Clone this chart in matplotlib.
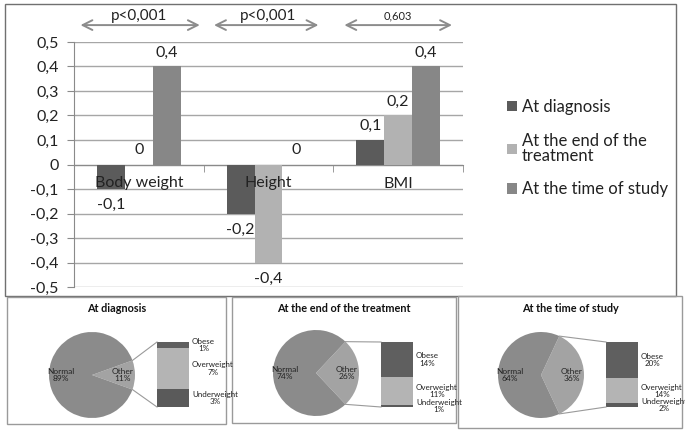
import numpy as np
import matplotlib
matplotlib.use("Agg")
import matplotlib.pyplot as plt
from matplotlib.patches import Rectangle

plt.rcParams['font.family'] = ['Lato', 'DejaVu Sans']

W, H = 685, 434

# ---- top chart data ----
categories = ["Body weight", "Height", "BMI"]
series_names = ["At diagnosis", "At the end of the\ntreatment", "At the time of study"]
at_diagnosis = [-0.1, -0.2, 0.1]
end_of_treatment = [0.0, -0.4, 0.2]
time_of_study = [0.4, 0.0, 0.4]
p_values = ["p<0,001", "p<0,001", "0,603"]
yticks = [0.5, 0.4, 0.3, 0.2, 0.1, 0.0, -0.1, -0.2, -0.3, -0.4, -0.5]

# ---- pie data ----
pie_titles = ["At diagnosis", "At the end of the treatment", "At the time of study"]
normal_pct = [89, 74, 64]
other_pct = [11, 26, 36]
obese_pct = [1, 14, 20]
overweight_pct = [7, 11, 14]
underweight_pct = [3, 1, 2]

bar_colors = ["#5b5b5b", "#b2b2b2", "#878787"]


def fmt(v):
    v = round(v, 1)
    if v == 0:
        return "0"
    return ("%g" % v).replace(".", ",")


def fr(x0, y0, x1, y1):
    # pixel box (top-left origin) -> figure fraction
    return [x0 / W, 1 - y1 / H, (x1 - x0) / W, (y1 - y0) / H]


fig = plt.figure(figsize=(W / 100, H / 100), dpi=100)

# overlay axes in pixel units (y up) for frames and pies
pax = fig.add_axes([0, 0, 1, 1])

# frames
pax.add_patch(Rectangle((5, H - 296), 671, 292, fill=False, ec="#707070", lw=1))
panels = [(7, 297, 226, 424), (232, 297, 456, 423), (458, 296, 682, 428)]
for (x0, y0, x1, y1) in panels:
    pax.add_patch(Rectangle((x0, H - y1), x1 - x0, y1 - y0, fill=False, ec="#9a9a9a", lw=1))

pie_centers = [(92, 375), (316, 373), (541, 375)]
radius = 43
bar_x = [157, 381, 606]
bar_w, bar_top, bar_h = 32, 342, 65

for i in range(3):
    cx, cy = pie_centers[i]
    cy = H - cy
    ang = other_pct[i] / 100 * 360
    wedges, _ = pax.pie([other_pct[i], normal_pct[i]], colors=["#a3a3a3", "#8b8b8b"],
                        startangle=-ang / 2, center=(cx, cy), radius=radius,
                        frame=True, wedgeprops=dict(linewidth=0))
    for wdg, lab in zip(wedges, ["Other\n%d%%" % other_pct[i], "Normal\n%d%%" % normal_pct[i]]):
        mid = np.deg2rad((wdg.theta1 + wdg.theta2) / 2)
        pax.text(cx + 0.72 * radius * np.cos(mid), cy + 0.72 * radius * np.sin(mid), lab,
                 ha="center", va="center", fontsize=6, multialignment="center",
                 color="#222222", linespacing=1.1)

    # bar of pie
    scale = bar_h / other_pct[i]
    bottom = H - bar_top - bar_h
    parts = [("Underweight", underweight_pct[i], "#5a5a5a"),
             ("Overweight", overweight_pct[i], "#b4b4b4"),
             ("Obese", obese_pct[i], "#5f5f5f")]
    for name, val, col in parts:
        h = val * scale
        pax.bar(bar_x[i] + bar_w / 2, h, bar_w, bottom=bottom, color=col, lw=0)
        pax.text(bar_x[i] + bar_w + 3, bottom + h / 2, "%s\n%d%%" % (name, val),
                 ha="left", va="center", fontsize=5.8, multialignment="center",
                 color="#222222", linespacing=1.05)
        bottom += h

    # connector lines
    a = np.deg2rad(ang / 2)
    pax.plot([cx + radius * np.cos(a), bar_x[i]], [cy + radius * np.sin(a), H - bar_top],
             color="#9a9a9a", lw=0.8)
    pax.plot([cx + radius * np.cos(a), bar_x[i]], [cy - radius * np.sin(a), H - bar_top - bar_h],
             color="#9a9a9a", lw=0.8)

    x0, y0, x1, y1 = panels[i]
    pax.text((x0 + x1) / 2, H - 309, pie_titles[i], ha="center", va="center",
             fontsize=7.8, fontweight="bold", color="#111111")

pax.set_xlim(0, W)
pax.set_ylim(0, H)
pax.axis("off")

# ---- bar chart ----
ax = fig.add_axes(fr(74, 42, 463, 287))
ax.set_facecolor("none")
x = np.arange(len(categories))
w = 0.215
series = [at_diagnosis, end_of_treatment, time_of_study]
handles = []
for k, vals in enumerate(series):
    bars = ax.bar(x + (k - 1) * w, vals, w, color=bar_colors[k], zorder=3, label=series_names[k])
    handles.append(bars)
    for b, v in zip(bars, vals):
        ax.annotate(fmt(v), (b.get_x() + b.get_width() / 2, v),
                    xytext=(0, 14 if v >= 0 else -16), textcoords="offset pixels",
                    ha="center", va="center", fontsize=11.5, color="#222222", zorder=5)

# category labels drawn above the bars, just under the zero line
for c, name in zip(x, categories):
    ax.annotate(name, (c, 0), xytext=(0, -19), textcoords="offset pixels",
                ha="center", va="center", fontsize=11.5, color="#222222", zorder=6)

ax.set_xlim(-0.5, 2.5)
ax.set_ylim(-0.5, 0.5)
ax.set_yticks(yticks)
ax.set_yticklabels([fmt(v) for v in yticks], fontsize=11.5, color="#222222")
ax.yaxis.grid(True, color="#a6a6a6", lw=1, zorder=0)
ax.set_axisbelow(True)
for s in ["top", "right"]:
    ax.spines[s].set_visible(False)
ax.spines["bottom"].set_position(("data", 0))
ax.spines["bottom"].set_color("#8a8a8a")
ax.spines["left"].set_color("#8a8a8a")
ax.tick_params(axis="y", length=5, color="#8a8a8a", pad=6)
ax.set_xticks([])
ax.set_xticks([-0.5, 0.5, 1.5, 2.5], minor=True)
ax.tick_params(axis="x", which="minor", length=5, color="#8a8a8a")

# p-value arrows
arrow_span = [(-0.45, 0.47), (-0.42, 0.385), (-0.415, 0.415)]
for c, (a0, a1), p in zip(x, arrow_span, p_values):
    ax.annotate("", xy=(c + a1, 1.069), xytext=(c + a0, 1.069),
                xycoords=("data", "axes fraction"),
                arrowprops=dict(arrowstyle="<->,head_length=0.7,head_width=0.35",
                                color="#8c8c8c", lw=1.4, shrinkA=0, shrinkB=0),
                annotation_clip=False)
    ax.text(c, 1.108, p, transform=ax.get_xaxis_transform(), ha="center", va="center",
            fontsize=11 if p.startswith("p") else 8, color="#222222")

leg = fig.legend(handles=handles, labels=series_names, loc="upper left",
                 bbox_to_anchor=(492 / W, 1 - 84 / H), frameon=False, fontsize=12,
                 handlelength=0.6, handleheight=0.6, handletextpad=0.3, labelspacing=1.05,
                 labelcolor="#222222")
for t in leg.get_texts():
    t.set_linespacing(0.95)

fig.savefig("out.png", dpi=100)
